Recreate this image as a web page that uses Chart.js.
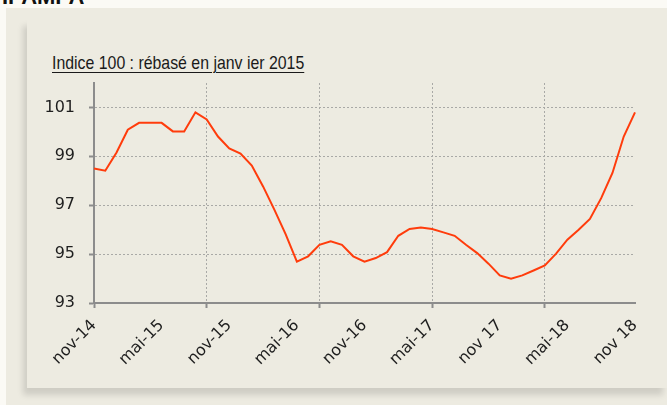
<!DOCTYPE html>
<html lang="fr">
<head>
<meta charset="utf-8">
<script src="https://cdn.jsdelivr.net/npm/chart.js@4"></script>
<style>
  html, body { margin: 0; padding: 0; }
  body {
    width: 667px;
    height: 405px;
    position: relative;
    overflow: hidden;
    background: #fbfaf5;
    font-family: "Liberation Sans", Arial, sans-serif;
  }
  #brand {
    position: absolute;
    left: 2px;
    top: -14px;
    font-size: 22px;
    line-height: 22px;
    font-weight: bold;
    color: #111;
  }
  #outer {
    position: absolute;
    left: 6px;
    top: 8px;
    right: 0;
    bottom: 0;
    background: #edebe1;
  }
  #panel {
    position: absolute;
    left: 27px;
    top: 19px;
    width: 640px;
    height: 369px;
    background: #edebe1;
    box-shadow: -4px 7px 6px rgba(0, 0, 0, 0.13);
  }
  #title {
    position: absolute;
    left: 52px;
    top: 53px;
    font-family: "Liberation Sans", Arial, sans-serif;
    font-size: 19px;
    line-height: 19px;
    color: #1a1a1a;
    text-decoration: underline;
    text-underline-offset: 3px;
    text-decoration-thickness: 1px;
    white-space: nowrap;
    transform: scaleX(0.835);
    transform-origin: 0 0;
  }
  #chart {
    position: absolute;
    left: 0;
    top: 0;
  }
</style>
</head>
<body>
<div id="brand">IPAMPA</div>
<div id="outer"></div>
<div id="panel"></div>
<div id="title">Indice 100 : rébasé en janv ier 2015</div>
<canvas id="chart" width="667" height="405"></canvas>
<script>
// monthly index, nov-14 .. nov-18
const values = [
  98.5, 98.41, 99.16, 100.09, 100.37, 100.37, 100.37, 100.02, 100.02, 100.8,
  100.51, 99.81, 99.32, 99.11, 98.62, 97.77, 96.82, 95.82, 94.69, 94.91,
  95.38, 95.52, 95.38, 94.91, 94.69, 94.84, 95.08, 95.75, 96.03, 96.09,
  96.03, 95.89, 95.75, 95.38, 95.04, 94.61, 94.13, 93.99, 94.13, 94.33,
  94.54, 95.02, 95.59, 96.0, 96.44, 97.29, 98.32, 99.81, 100.8,
];
const tickLabels = ["nov-14", "mai-15", "nov-15", "mai-16", "nov-16", "mai-17", "nov 17", "mai-18", "nov 18"];
const yTicks = [93, 95, 97, 99, 101];
const yMin = 93;
const yMax = 102;
const labelStep = 6;
const gridStep = 10;

const axisColor = "#8c8c8c";
const gridColor = "#a9a9a6";

Chart.defaults.font.family = "DejaVu Sans";
Chart.defaults.color = "#1e1e1e";

const ctx = document.getElementById("chart").getContext("2d");

new Chart(ctx, {
  type: "line",
  data: {
    labels: values.map((v, i) => i),
    datasets: [
      {
        data: values,
        borderColor: "#ff3c0c",
        borderWidth: 2,
        pointRadius: 0,
        fill: false,
        tension: 0,
      },
    ],
  },
  options: {
    responsive: false,
    animation: false,
    devicePixelRatio: 1,
    layout: {
      padding: { left: 0, top: 83, right: 32, bottom: 0 },
    },
    plugins: {
      legend: { display: false },
      tooltip: { enabled: false },
    },
    scales: {
      x: {
        type: "category",
        offset: false,
        grid: {
          color: (c) => (c.index % gridStep === 0 ? gridColor : "transparent"),
          tickColor: (c) => (c.index % gridStep === 0 ? axisColor : "transparent"),
          tickLength: 5,
          tickWidth: 2,
          lineWidth: 1,
        },
        border: { color: axisColor, width: 2, dash: [2, 2] },
        ticks: {
          autoSkip: false,
          minRotation: 45,
          maxRotation: 45,
          padding: 8,
          font: { size: 16 },
          callback: (v, i) => (i % labelStep === 0 ? tickLabels[i / labelStep] : ""),
        },
        afterFit: (s) => {
          s.height = 102;
        },
      },
      y: {
        min: yMin,
        max: yMax,
        afterBuildTicks: (s) => {
          s.ticks = yTicks.map((v) => ({ value: v }));
        },
        grid: {
          color: (c) => (c.tick && c.tick.value === yMin ? "transparent" : gridColor),
          tickColor: axisColor,
          tickLength: 5,
          tickWidth: 2,
          lineWidth: 1,
        },
        border: { color: axisColor, width: 2, dash: [2, 2] },
        ticks: {
          padding: 14,
          font: { size: 16 },
        },
        afterFit: (s) => {
          s.width = 94;
        },
      },
    },
  },
});
</script>
</body>
</html>
